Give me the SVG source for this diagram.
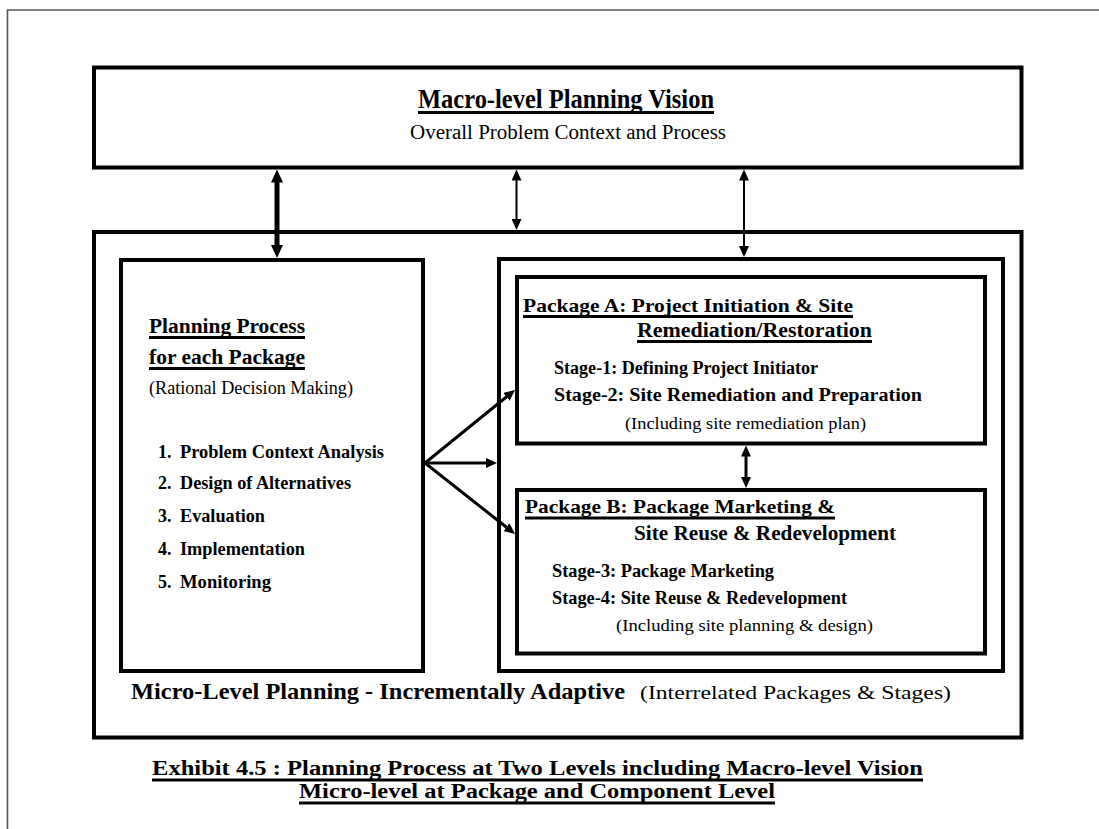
<svg xmlns="http://www.w3.org/2000/svg" width="1099" height="829" viewBox="0 0 1099 829">
  <style>
    .frame { fill: none; stroke: #555; stroke-width: 1.6; }
    .box { fill: #fff; stroke: #000; stroke-width: 4; }
    .t { font-family: "Liberation Serif", "Times New Roman", serif; fill: #000; }
    .b { font-weight: bold; }
    .ul { stroke: #000; stroke-width: 3; }
    .arrow { fill: none; stroke: #000; }
    .thick { stroke-width: 5; }
    .mid { stroke-width: 3; }
    .thin { stroke-width: 2; }
  </style>
  <defs>
    <marker id="ah-lg" markerUnits="userSpaceOnUse" markerWidth="14" markerHeight="12" refX="7" refY="6" orient="auto-start-reverse">
      <path d="M0,0 L13,6 L0,12 z" fill="#000"/>
    </marker>
    <marker id="ah-sm" markerUnits="userSpaceOnUse" markerWidth="12" markerHeight="10" refX="6" refY="5" orient="auto-start-reverse">
      <path d="M0,0 L11,5 L0,10 z" fill="#000"/>
    </marker>
  </defs>

  <rect width="1099" height="829" fill="#fff"/>
  <!-- page frame -->
  <path class="frame" d="M7.5,829 V10 H1099"/>

  <!-- macro level -->
  <g id="macro">
    <rect class="box" x="94" y="67.5" width="927.5" height="100"/>
    <text class="t b" x="418" y="108" font-size="27" textLength="296" lengthAdjust="spacingAndGlyphs">Macro-level Planning Vision</text>
    <line class="ul" x1="418" y1="112.5" x2="714" y2="112.5"/>
    <text class="t" x="410" y="138.5" font-size="20" textLength="316" lengthAdjust="spacingAndGlyphs">Overall Problem Context and Process</text>
  </g>

  <!-- micro level container -->
  <g id="micro">
    <rect class="box" x="94" y="232" width="927.5" height="505.5"/>
    <text class="t b" x="131" y="699" font-size="23" textLength="494" lengthAdjust="spacingAndGlyphs">Micro-Level Planning - Incrementally Adaptive</text>
    <text class="t" x="640" y="699" font-size="19" textLength="311" lengthAdjust="spacingAndGlyphs">(Interrelated Packages &amp; Stages)</text>
  </g>

  <!-- planning process -->
  <g id="planning-process">
    <rect class="box" x="121" y="260" width="302" height="411"/>
    <text class="t b" x="149" y="333" font-size="20" textLength="156" lengthAdjust="spacingAndGlyphs">Planning Process</text>
    <line class="ul" x1="149" y1="337.5" x2="305" y2="337.5"/>
    <text class="t b" x="149" y="364" font-size="20" textLength="156" lengthAdjust="spacingAndGlyphs">for each Package</text>
    <line class="ul" x1="149" y1="368.5" x2="305" y2="368.5"/>
    <text class="t" x="149" y="394" font-size="18" textLength="204" lengthAdjust="spacingAndGlyphs">(Rational Decision Making)</text>
    <g class="t b" font-size="18">
      <text x="158" y="458">1.</text>
      <text x="180" y="458" textLength="204" lengthAdjust="spacingAndGlyphs">Problem Context Analysis</text>
      <text x="158" y="489">2.</text>
      <text x="180" y="489" textLength="171" lengthAdjust="spacingAndGlyphs">Design of Alternatives</text>
      <text x="158" y="522">3.</text>
      <text x="180" y="522" textLength="85" lengthAdjust="spacingAndGlyphs">Evaluation</text>
      <text x="158" y="555">4.</text>
      <text x="180" y="555" textLength="125" lengthAdjust="spacingAndGlyphs">Implementation</text>
      <text x="158" y="588">5.</text>
      <text x="180" y="588" textLength="91" lengthAdjust="spacingAndGlyphs">Monitoring</text>
    </g>
  </g>

  <!-- packages container -->
  <g id="packages">
    <rect class="box" x="499" y="259" width="504" height="412"/>
  </g>

  <g id="package-a">
    <rect class="box" x="517" y="277" width="468" height="166.5"/>
    <text class="t b" x="523" y="312" font-size="19" textLength="330" lengthAdjust="spacingAndGlyphs">Package A: Project Initiation &amp; Site</text>
    <line class="ul" x1="523" y1="316.5" x2="853" y2="316.5"/>
    <text class="t b" x="637" y="337" font-size="20" textLength="235" lengthAdjust="spacingAndGlyphs">Remediation/Restoration</text>
    <line class="ul" x1="637" y1="341.5" x2="872" y2="341.5"/>
    <text class="t b" x="554" y="374" font-size="18" textLength="264" lengthAdjust="spacingAndGlyphs">Stage-1: Defining Project Initiator</text>
    <text class="t b" x="554" y="401" font-size="18" textLength="368" lengthAdjust="spacingAndGlyphs">Stage-2: Site Remediation and Preparation</text>
    <text class="t" x="625" y="429" font-size="17" textLength="241" lengthAdjust="spacingAndGlyphs">(Including site remediation plan)</text>
  </g>

  <g id="package-b">
    <rect class="box" x="517" y="490" width="468" height="163.5"/>
    <text class="t b" x="525" y="513" font-size="19" textLength="310" lengthAdjust="spacingAndGlyphs">Package B: Package Marketing &amp;</text>
    <line class="ul" x1="525" y1="518" x2="835" y2="518"/>
    <text class="t b" x="634" y="540" font-size="21" textLength="262" lengthAdjust="spacingAndGlyphs">Site Reuse &amp; Redevelopment</text>
    <text class="t b" x="552" y="577" font-size="18" textLength="222" lengthAdjust="spacingAndGlyphs">Stage-3: Package Marketing</text>
    <text class="t b" x="552" y="604" font-size="18" textLength="295" lengthAdjust="spacingAndGlyphs">Stage-4: Site Reuse &amp; Redevelopment</text>
    <text class="t" x="616" y="631" font-size="17" textLength="257" lengthAdjust="spacingAndGlyphs">(Including site planning &amp; design)</text>
  </g>

  <!-- connectors -->
  <g id="connectors">
    <line class="arrow thick" x1="277" y1="175.5" x2="277" y2="252" marker-start="url(#ah-lg)" marker-end="url(#ah-lg)"/>
    <line class="arrow thin" x1="516.5" y1="174.5" x2="516.5" y2="225" marker-start="url(#ah-sm)" marker-end="url(#ah-sm)"/>
    <line class="arrow thin" x1="744" y1="174.5" x2="744" y2="252" marker-start="url(#ah-sm)" marker-end="url(#ah-sm)"/>
    <line class="arrow mid" x1="746" y1="450.5" x2="746" y2="483" marker-start="url(#ah-sm)" marker-end="url(#ah-sm)"/>
    <line class="arrow mid" x1="425" y1="463" x2="511.1" y2="393.1" marker-end="url(#ah-sm)"/>
    <line class="arrow mid" x1="425" y1="463" x2="492" y2="463" marker-end="url(#ah-sm)"/>
    <line class="arrow mid" x1="425" y1="463" x2="511.1" y2="530.9" marker-end="url(#ah-sm)"/>
  </g>

  <!-- caption -->
  <g id="caption">
    <text class="t b" x="152" y="775" font-size="20.5" textLength="771" lengthAdjust="spacingAndGlyphs">Exhibit 4.5 : Planning Process at Two Levels including Macro-level Vision</text>
    <line class="ul" x1="152" y1="780" x2="923" y2="780"/>
    <text class="t b" x="299" y="798" font-size="20.5" textLength="476" lengthAdjust="spacingAndGlyphs">Micro-level at Package and Component Level</text>
    <line class="ul" x1="299" y1="803" x2="775" y2="803"/>
  </g>
</svg>
